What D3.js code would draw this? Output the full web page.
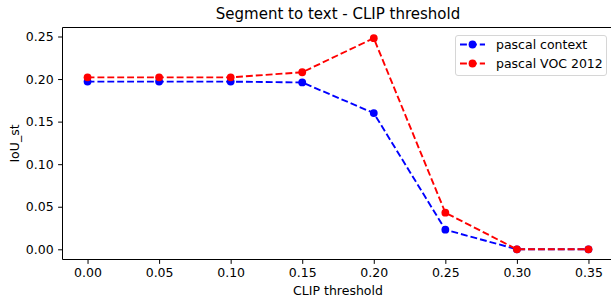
<!DOCTYPE html>
<html>
<head>
<meta charset="utf-8">
<script src="https://cdn.jsdelivr.net/npm/d3@7"></script>
<style>
  body { margin: 0; background: #fff; }
  svg text { font-family: "DejaVu Sans", sans-serif; fill: #000; }
</style>
</head>
<body>
<svg id="plot" width="611" height="301"></svg>
<script>
const thresholds = [0.00, 0.05, 0.10, 0.15, 0.20, 0.25, 0.30, 0.35];
const pascalContext = [0.197, 0.197, 0.197, 0.196, 0.160, 0.023, 0.000, 0.000];
const pascalVoc = [0.202, 0.202, 0.202, 0.208, 0.248, 0.043, 0.000, 0.000];
const xTicks = [0.00, 0.05, 0.10, 0.15, 0.20, 0.25, 0.30, 0.35];
const yTicks = [0.00, 0.05, 0.10, 0.15, 0.20, 0.25];
const seriesNames = ['pascal context', 'pascal VOC 2012'];
const seriesColors = ['#0000ff', '#ff0000'];

main();

function main () {
  const svg = d3.select('svg#plot');

  // axes box (right spine falls just outside the picture)
  const left = 62.5, right = 613.5, top = 27.5, bottom = 259.5;

  const x = d3.scaleLinear().domain([-0.0175, 0.3675]).range([left, right]);
  const yk = (249.3 - 36.5) / 0.25;
  const y = d3.scaleLinear()
    .domain([-(bottom - 249.3) / yk, (249.3 - top) / yk])
    .range([bottom, top]);

  // series
  const data = [pascalContext, pascalVoc];
  data.forEach((vals, i) => {
    const pts = thresholds.map((t, j) => [t, vals[j]]);
    const line = d3.line().x(d => x(d[0])).y(d => y(d[1]));
    svg.append('path')
      .attr('d', line(pts))
      .attr('fill', 'none')
      .attr('stroke', seriesColors[i])
      .attr('stroke-width', 1.9)
      .attr('stroke-dasharray', '6.9,3');
    svg.selectAll(null).data(pts).enter().append('circle')
      .attr('cx', d => x(d[0]))
      .attr('cy', d => y(d[1]))
      .attr('r', 3.9)
      .attr('fill', seriesColors[i]);
  });

  // axes
  const xAxis = d3.axisBottom(x).tickValues(xTicks).tickFormat(d3.format('.2f')).tickSize(4.4).tickPadding(4.5);
  const yAxis = d3.axisLeft(y).tickValues(yTicks).tickFormat(d3.format('.2f')).tickSize(4.4).tickPadding(4.5);

  const gx = svg.append('g').attr('transform', `translate(0,${bottom})`).call(xAxis);
  const gy = svg.append('g').attr('transform', `translate(${left},0)`).call(yAxis);
  [gx, gy].forEach(g => {
    g.select('.domain').remove();
    g.selectAll('line').attr('stroke', '#000').attr('stroke-width', 1);
    g.selectAll('text').attr('font-size', '12.5px').attr('font-family', 'DejaVu Sans').attr('fill', '#000');
  });

  svg.append('line').attr('x1', left).attr('x2', left).attr('y1', top).attr('y2', bottom).attr('stroke', '#000');
  svg.append('line').attr('x1', left).attr('x2', right).attr('y1', bottom).attr('y2', bottom).attr('stroke', '#000');
  svg.append('line').attr('x1', left).attr('x2', right).attr('y1', top).attr('y2', top).attr('stroke', '#000');
  svg.append('line').attr('x1', right).attr('x2', right).attr('y1', top).attr('y2', bottom).attr('stroke', '#000');

  // labels
  svg.append('text').text('Segment to text - CLIP threshold')
    .attr('x', (left + right) / 2).attr('y', 19)
    .attr('text-anchor', 'middle').attr('font-size', '15px');
  svg.append('text').text('CLIP threshold')
    .attr('x', (left + right) / 2).attr('y', 295)
    .attr('text-anchor', 'middle').attr('font-size', '12.5px');
  svg.append('text').text('IoU_st')
    .attr('transform', `translate(19,${(top + bottom) / 2}) rotate(-90)`)
    .attr('text-anchor', 'middle').attr('font-size', '12.5px');

  // legend
  const lg = svg.append('g');
  lg.append('rect')
    .attr('x', 455.5).attr('y', 35.5).attr('width', 151).attr('height', 40)
    .attr('rx', 2.5).attr('fill', '#fff').attr('fill-opacity', 0.8)
    .attr('stroke', '#d6d6d6').attr('stroke-width', 1);
  seriesNames.forEach((name, i) => {
    const cy = 44.5 + i * 19;
    lg.append('line')
      .attr('x1', 460).attr('x2', 485).attr('y1', cy).attr('y2', cy)
      .attr('stroke', seriesColors[i]).attr('stroke-width', 1.9)
      .attr('stroke-dasharray', '6.9,3');
    lg.append('circle').attr('cx', 472.5).attr('cy', cy).attr('r', 3.9).attr('fill', seriesColors[i]);
    lg.append('text').text(name)
      .attr('x', 496).attr('y', cy + 4.5).attr('font-size', '12.5px');
  });
}
</script>
</body>
</html>
